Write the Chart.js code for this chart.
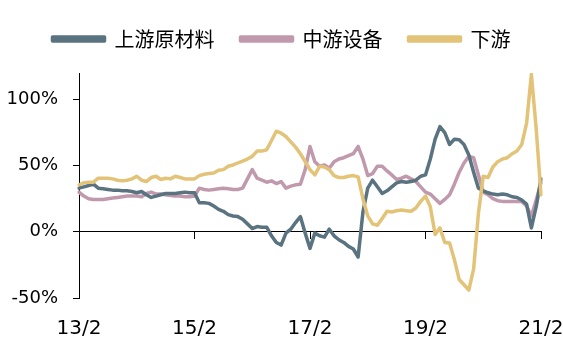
<!DOCTYPE html>
<html><head><meta charset="utf-8">
<script src="https://cdn.jsdelivr.net/npm/chart.js@4.4.1/dist/chart.umd.min.js"></script>
<style>html,body{margin:0;padding:0;background:#fff}#wrap{width:563px;height:358px}</style>
</head><body><div id="wrap"><canvas id="c" width="563" height="358"></canvas></div>
<script>
const seriesNames = ['上游原材料', '中游设备', '下游'];
const months = [];
for (let y = 13; y <= 21; y++) {
  for (let m = 1; m <= 12; m++) {
    if ((y === 13 && m < 2) || (y === 21 && m > 2)) continue;
    months.push(y + '/' + m);
  }
}
const xTickLabels = ['13/2', '15/2', '17/2', '19/2', '21/2'];
const yTickValues = [-50, 0, 50, 100];

const upstream = [33,34,35,36,33,32.5,32,31.5,31.5,31,31,30.5,29.5,30.5,28,26,27,28,29,29,29,29.5,30,29.5,29.5,22,22,21.5,19.5,17,15.5,13,12,11.5,9.5,6,2.5,4,3.5,3.5,-3,-8,-10,-1,2,7,11.5,-1,-12.5,-1,-3,-4,2,-3,-6,-8,-11,-13,-19,15,33,39,34,29,31,34,37,38,37.5,38,39,42,43,55,70,79.5,75,66,70,69.5,66,58,45,33,31,29.5,28.5,28,28.5,28,26.5,26,24,21,3,19,40];
const midstream = [30,27,25,24.5,24.5,24.5,25,25.5,26,26.5,27,27,27,26.5,29,30,28.5,28.5,28,27.5,27,27,26.5,26.5,27,33,32,31.5,32,32.5,33,32.5,32,32,33,40,47,40.5,39,37.5,38.5,36.5,38,33,34.5,35.5,36,47,64.5,53,49.5,50.5,48,53,55,56,57.5,59,64.5,55,42.5,44,49.5,49.5,46,43,39.5,40.5,42,40,38,34,30,28.5,25,21.5,24.5,28,36,45,52,57,56,43,30,28,25,23.5,23,23,23,23,23,19.5,12,24,37];
const downstream = [35.5,37,37.5,37.5,40.5,40.5,40.5,40,39,38.5,39,40,42,39,38,41,42,39.5,40.5,40,42,41,40,40,40,42.5,43.5,44,44.5,46.5,47,49.5,50.5,52,53.5,55,57,61,61,62,69,76,74.5,72,68,64,59,53,47,43,49.5,49,47,42.5,41,41,42,42.5,41.5,25,12,6,5,10,15.5,15,16,16.5,16,15.5,18,23,27,19,-2,3,-8,-8.5,-21,-36,-40,-44,-28,14,42,41,49,53,55,56,59,61,66,82,119,78,28];

const colors = ['#5a7380', '#c199ac', '#e2c378'];
const keepXTicks = s => { s.ticks = s.ticks.filter(t => xTickLabels.includes(months[t.value])); };

const legendSpace = {
  id: 'legendSpace',
  beforeInit(chart) {
    const lg = chart.legend;
    if (!lg) return;
    const origFit = lg.fit;
    lg.fit = function () { origFit.call(this); this.height += 14; };
  }
};

new Chart(document.getElementById('c'), {
  type: 'line',
  data: {
    labels: months,
    datasets: [
      { label: seriesNames[0], data: upstream, order: 1 },
      { label: seriesNames[1], data: midstream, order: 2 },
      { label: seriesNames[2], data: downstream, order: 0 }
    ].map((d, i) => Object.assign(d, {
      borderColor: colors[i], backgroundColor: colors[i], borderWidth: 3.5,
      pointRadius: 0, pointHoverRadius: 0, tension: 0, fill: false,
      borderJoinStyle: 'round', borderCapStyle: 'round', xAxisID: 'x', yAxisID: 'y'
    }))
  },
  plugins: [legendSpace],
  options: {
    responsive: false,
    animation: false,
    devicePixelRatio: 1,
    layout: { padding: { left: 0, right: 0, top: 3, bottom: 19 } },
    plugins: {
      legend: {
        position: 'top',
        labels: {
          boxWidth: 52, boxHeight: 4, padding: 26, color: '#000',
          sort: (a, b) => a.datasetIndex - b.datasetIndex,
          font: { family: '"Noto Sans CJK SC", "Noto Sans", sans-serif', size: 20 }
        }
      },
      tooltip: { enabled: false }
    },
    scales: {
      x: {
        type: 'category',
        position: { y: 0 },
        afterBuildTicks: keepXTicks,
        afterFit: s => { s.paddingLeft = 0; s.paddingRight = 0; },
        ticks: { display: false },
        grid: { display: true, drawOnChartArea: false, drawTicks: true, tickLength: 7, tickColor: '#000', color: '#000' },
        border: { display: true, color: '#000', width: 1 }
      },
      x2: {
        type: 'category',
        position: 'bottom',
        afterBuildTicks: keepXTicks,
        afterFit: s => { s.height = 41; s.paddingLeft = 0; s.paddingRight = 22; },
        grid: { display: false, drawTicks: false },
        border: { display: false },
        ticks: { autoSkip: false, maxRotation: 0, padding: 19, color: '#000',
          font: { family: '"DejaVu Sans", sans-serif', size: 20 } }
      },
      y: {
        min: -50, max: 120,
        afterBuildTicks: s => { s.ticks = yTickValues.map(v => ({ value: v })); },
        afterFit: s => { s.width = 79; },
        ticks: { callback: v => v + '%', padding: 15, color: '#000',
          font: { family: '"DejaVu Sans", sans-serif', size: 18 } },
        grid: { drawOnChartArea: false, drawTicks: true, tickLength: 6, tickColor: '#000', color: '#000' },
        border: { display: true, color: '#000', width: 1 }
      }
    }
  }
});
</script>
</body></html>
